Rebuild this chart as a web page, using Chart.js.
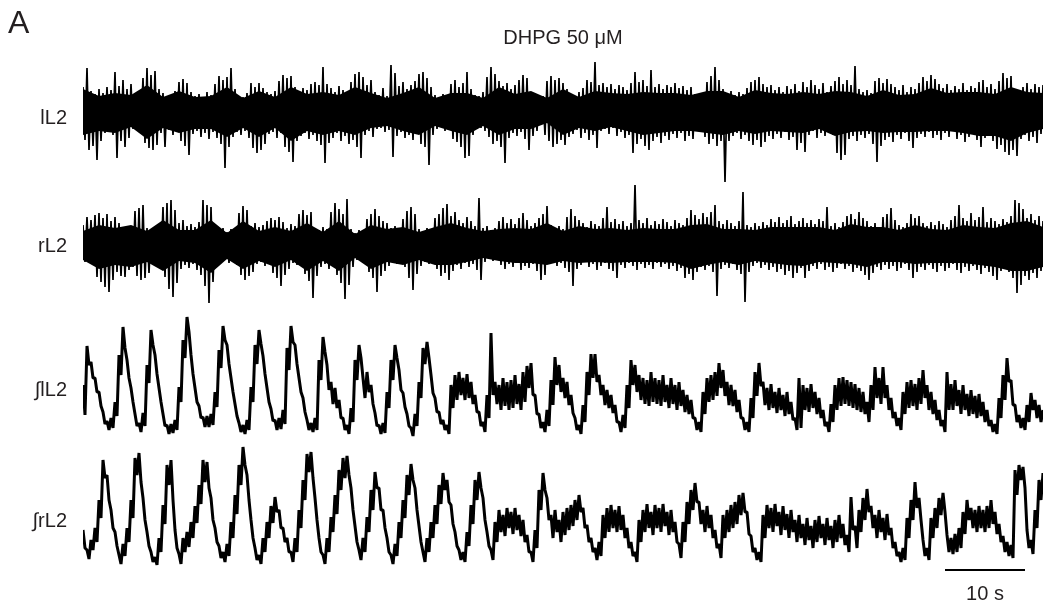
<!DOCTYPE html>
<html>
<head>
<meta charset="utf-8">
<script src="https://cdn.jsdelivr.net/npm/chart.js"></script>
<style>
  html, body { margin: 0; padding: 0; background: #ffffff; }
  canvas { display: block; }
</style>
</head>
<body>
<canvas id="traces" width="1044" height="610"></canvas>
<script>
// Ventral root recordings in DHPG 50 µM, 120 s, signal edges read every 0.5 s
const PANEL_LETTER = 'A';
const CONDITION = 'DHPG 50 \u03bcM';
const TRACE_NAMES = ['lL2', 'rL2', '\u222blL2', '\u222brL2'];
const SAMPLE_INTERVAL_S = 0.5;
const CORE_INTERVAL_S = 2;
const SCALE_BAR_S = 10;
const SCALE_BAR_END_S = 117.75;

// Raw left L2 neurogram: upper and lower excursions of the signal (a.u.)
const lL2_upper = [
  24,43,20,17,22,18,24,21,39,25, 31,22,27,17,15,33,43,36,40,22, 18,14,15,20,29,32,28,19,15,17,
  14,19,16,27,35,31,34,43,22,15, 14,18,28,24,28,23,19,17,20,30, 36,33,35,24,20,23,21,27,29,26,
  44,27,23,19,25,21,16,29,37,39, 34,26,31,19,16,23,15,46,38,25, 29,22,26,30,37,39,33,24,16,14,
  17,15,27,31,24,28,39,22,16,15, 19,34,44,37,30,25,28,22,26,31, 36,33,18,14,16,15,30,35,31,33,
  28,22,17,14,19,23,31,29,49,26, 28,24,27,22,26,24,21,28,39,29, 31,25,41,24,27,22,26,24,28,23,
  25,21,24,17,15,18,29,35,44,31, 22,18,20,16,19,17,23,29,31,34, 27,24,26,21,24,19,25,22,27,20,
  29,24,31,26,22,28,19,25,30,34, 27,31,26,45,22,19,21,18,30,33, 28,32,27,24,21,26,19,24,22,28,
  34,30,36,32,27,23,27,21,25,22, 28,21,25,23,29,31,24,27,22,30, 38,33,35,20,18,24,28,22,27,24,
  26];
const lL2_lower = [
  -29,-39,-35,-49,-30,-22,-20,-24,-47,-30, -36,-27,-18,-16,-17,-32,-37,-39,-34,-22, -36,-19,-24,-18,-30,-35,-44,-23,-20,-26,
  -22,-28,-21,-27,-33,-57,-36,-26,-21,-24, -20,-27,-37,-42,-39,-33,-23,-21,-27,-22, -36,-41,-51,-30,-25,-22,-28,-24,-30,-34,
  -52,-32,-27,-22,-30,-25,-33,-29,-36,-47, -24,-20,-26,-18,-17,-21,-19,-46,-25,-21, -27,-24,-29,-22,-33,-36,-54,-24,-18,-16,
  -20,-18,-28,-31,-36,-47,-45,-24,-18,-17, -20,-26,-33,-30,-36,-52,-27,-22,-25,-21, -28,-39,-25,-20,-11,-24,-30,-36,-33,-29,
  -34,-26,-23,-19,-27,-22,-29,-24,-37,-20, -18,-23,-17,-25,-21,-27,-24,-42,-33,-28, -35,-39,-30,-26,-32,-25,-29,-23,-27,-22,
  -30,-25,-28,-20,-18,-26,-33,-28,-35,-30, -71,-30,-25,-22,-28,-24,-30,-34,-29,-36, -31,-25,-28,-23,-27,-21,-29,-26,-39,-32,
  -41,-24,-20,-27,-22,-25,-13,-24,-42,-49, -44,-28,-25,-30,-24,-27,-23,-33,-51,-35, -29,-26,-31,-24,-28,-22,-30,-37,-27,-23,
  -26,-21,-27,-24,-29,-22,-26,-20,-28,-24, -31,-26,-23,-29,-36,-27,-22,-30,-38,-34, -41,-44,-39,-45,-28,-24,-30,-26,-32,-23,
  -21];
// Dense core of the left neurogram, read every 2 s
const lL2_core_top = [22,15,18,16,26,14,20,14,15,24, 13,20,14,24,17,19,16,24,18,13, 18,24,13,18,18,13,24,17,20,13,
  22,14,20,18,17,19,18,18,16,20, 20,14,21,18,17,19,17,20,19,15, 21,16,17,23,18,19,19,17,24,19, 18];
const lL2_core_bottom = [-24,-20,-22,-16,-28,-17,-22,-18,-18,-26, -17,-26,-17,-30,-20,-24,-20,-24,-17,-15,
  -20,-24,-15,-20,-24,-15,-24,-18,-18,-12, -24,-17,-20,-16,-20,-24,-22,-20,-20,-22,
  -24,-20,-23,-20,-21,-22,-18,-25,-21,-20, -22,-21,-21,-20,-20,-22,-25,-25,-30,-22, -18];

// Raw right L2 neurogram
const rL2_upper = [
  20,28,25,30,32,27,31,24,28,22, 16,18,15,34,37,40,17,15,18,16, 38,42,45,35,22,25,19,21,18,23,
  45,40,38,16,14,17,13,16,15,32, 39,35,19,22,18,20,24,27,25,28, 23,17,21,19,31,35,30,33,17,15,
  18,16,33,42,36,31,46,16,12,15, 13,26,31,36,29,24,22,17,19,16, 26,34,38,31,16,13,17,14,27,31,
  37,41,29,33,25,22,28,24,19,47, 17,19,15,17,24,28,22,26,21,27, 32,25,19,22,27,31,39,20,17,19,
  16,28,36,29,25,22,18,24,21,19, 27,38,23,26,21,24,19,22,61,25, 22,27,20,24,21,26,23,19,25,22,
  20,27,35,30,26,32,28,33,40,24, 21,25,22,19,24,53,20,18,22,19, 23,20,26,23,28,22,25,29,21,24,
  27,22,25,21,26,24,38,19,22,18, 23,29,31,26,33,27,24,19,22,18, 28,31,37,25,20,18,22,31,27,29,
  22,19,23,20,24,21,18,25,29,40, 27,24,32,25,28,38,23,27,24,21, 26,23,29,45,42,36,27,31,25,29,
  24];
const rL2_lower = [
  -17,-16,-18,-32,-37,-42,-47,-35,-27,-31, -32,-25,-22,-31,-35,-33,-28,-17,-16,-18, -32,-44,-52,-38,-24,-20,-23,-19,-25,-30,
  -41,-58,-37,-22,-17,-15,-18,-16,-20,-30, -35,-31,-27,-19,-17,-21,-19,-28,-33,-41, -30,-24,-18,-20,-17,-29,-36,-53,-31,-22,
  -19,-24,-21,-30,-38,-54,-40,-22,-15,-13, -17,-27,-33,-47,-31,-26,-21,-17,-19,-16, -22,-33,-45,-29,-21,-17,-19,-15,-24,-31,
  -28,-35,-26,-20,-24,-18,-22,-19,-25,-35, -17,-14,-16,-13,-20,-24,-19,-22,-18,-25, -21,-23,-19,-26,-35,-30,-19,-16,-21,-18,
  -23,-27,-41,-24,-20,-17,-22,-19,-25,-21, -18,-24,-26,-33,-20,-23,-18,-21,-25,-19, -23,-20,-24,-18,-22,-19,-24,-21,-26,-23,
  -33,-29,-35,-27,-22,-25,-21,-27,-51,-24, -20,-23,-19,-25,-29,-57,-27,-21,-18,-23, -20,-25,-22,-27,-24,-30,-26,-33,-28,-23,
  -33,-26,-21,-24,-19,-25,-22,-27,-23,-19, -24,-21,-27,-23,-26,-30,-35,-28,-22,-25, -20,-24,-21,-26,-23,-19,-25,-33,-27,-22,
  -25,-20,-24,-27,-21,-26,-23,-19,-25,-28, -22,-26,-21,-25,-29,-23,-27,-31,-35,-26, -22,-27,-33,-48,-40,-31,-35,-28,-33,-26,
  -30];
const rL2_core_top = [14,20,17,20,14,25,15,15,25,12, 24,14,18,14,22,13,24,11,20,16, 18,13,18,22,17,14,16,17,16,22,
  14,19,16,17,15,17,16,16,20,21, 16,16,15,18,18,18,18,15,21,18, 18,15,20,16,15,20,18,17,22,24, 18];
const rL2_core_bottom = [-15,-24,-20,-22,-17,-26,-16,-18,-28,-14, -24,-16,-22,-15,-26,-16,-26,-13,-24,-17,
  -20,-15,-20,-20,-17,-13,-16,-18,-18,-20, -16,-18,-17,-18,-17,-17,-17,-18,-24,-20,
  -17,-20,-16,-18,-20,-21,-17,-18,-19,-22, -17,-17,-19,-18,-18,-18,-20,-22,-26,-26, -22];

// Integrated left L2 activity: upper and lower edges of the noisy trace (a.u.)
const int_lL2_upper = [
  55,94,78,62,48,28,19,22,38,85, 113,80,52,26,17,27,75,110,85,52, 26,15,16,20,53,100,123,85,52,34,
  23,24,26,48,90,114,95,62,36,17, 15,20,53,95,110,84,52,31,20,22, 30,92,114,95,62,42,20,17,22,80,
  103,75,58,52,40,22,15,32,80,95, 62,68,55,27,15,17,48,80,95,70, 47,26,12,26,58,92,98,65,42,28,
  20,15,55,65,68,62,66,58,45,28, 18,45,107,58,55,62,58,60,65,56, 68,74,77,45,26,18,30,60,83,75,
  62,58,45,22,15,35,68,86,86,65, 55,50,45,35,18,25,55,80,75,65, 62,60,68,62,60,65,55,62,55,58,
  50,45,40,22,18,48,62,65,68,77, 70,58,55,50,40,22,18,42,68,77, 58,52,56,48,52,45,48,38,22,62,
  55,52,56,48,42,30,18,36,55,62, 63,60,58,56,52,48,38,55,73,62, 73,55,42,28,22,48,58,60,56,62,
  70,55,48,40,30,20,68,56,60,50, 55,46,50,44,46,38,30,20,16,42, 65,82,60,35,25,22,35,47,40,35,
  30];
const int_lL2_lower = [
  25,75,62,48,34,16,10,12,24,65, 92,62,38,14,8,14,57,95,66,38, 14,6,7,10,38,82,108,66,38,22,
  13,13,15,33,72,100,76,48,24,8, 6,10,38,76,96,66,38,19,10,11, 16,70,98,76,48,28,10,8,10,60,
  88,50,36,32,22,10,6,18,60,82, 42,48,36,14,6,7,32,60,82,50, 33,14,4,14,42,76,82,47,28,16,
  10,6,32,40,45,40,42,36,28,14, 8,22,45,36,30,34,30,32,36,30, 38,52,45,26,12,8,14,35,55,48,
  42,35,27,10,6,18,45,62,58,45, 35,32,27,18,8,12,32,55,48,40, 36,34,38,36,34,38,32,36,30,34,
  28,26,22,10,8,26,38,40,44,52, 44,35,34,28,22,10,8,22,44,54, 35,30,32,27,30,24,26,20,10,12,
  30,28,32,26,22,14,8,18,30,34, 36,34,32,30,28,26,18,30,42,36, 42,30,22,14,10,26,32,34,30,36,
  42,30,26,20,14,8,30,30,34,26, 30,24,26,22,24,18,14,8,6,22, 40,58,35,18,12,10,18,30,22,18,
  14];

// Integrated right L2 activity
const int_rL2_upper = [
  40,20,30,42,70,110,95,60,38,15, 26,42,70,112,117,72,38,18,13,32, 65,105,110,40,16,32,38,48,64,85,
  110,108,72,42,24,18,26,48,75,105, 123,95,50,22,15,32,48,64,73,60, 42,32,18,32,60,90,116,118,72,32,
  15,32,53,75,100,112,114,82,44,20, 32,53,80,98,82,60,32,15,26,48, 70,95,106,82,44,18,32,48,65,85,
  97,90,65,38,20,18,38,65,90,98, 72,38,20,48,60,55,62,58,62,55, 50,35,18,40,80,97,72,55,60,50,
  58,62,65,70,75,62,45,32,22,28, 55,62,65,60,64,55,42,28,18,50, 60,66,58,65,62,66,58,60,48,26,
  48,68,80,87,68,60,64,55,40,26, 55,60,65,68,75,77,58,34,22,18, 55,65,62,66,58,64,56,60,50,55,
  46,52,44,50,54,46,52,44,50,55, 46,35,73,44,60,72,81,64,55,60, 52,56,42,28,18,22,52,70,88,72,
  30,22,52,62,72,77,35,32,36,42, 58,70,62,60,64,60,64,70,58,46, 34,28,25,100,105,103,40,30,60,90,
  97];
const int_rL2_lower = [
  22,11,20,28,52,92,70,42,24,6, 14,28,52,95,88,50,24,8,5,18, 46,85,70,22,6,18,23,32,47,66,
  88,82,50,28,12,8,14,32,56,85, 105,70,32,10,6,18,32,47,58,42, 28,18,8,18,42,70,98,92,50,18,
  6,18,38,56,80,92,95,60,28,10, 18,38,60,82,60,42,18,6,14,32, 52,75,90,60,28,8,18,32,46,66,
  80,68,46,24,10,8,24,46,70,82, 50,24,10,28,38,34,42,36,40,34, 28,18,8,22,60,80,50,32,38,28,
  35,40,44,50,58,42,28,18,10,14, 32,38,42,38,40,32,22,14,8,28, 38,42,35,42,38,44,35,38,28,12,
  28,46,60,68,46,38,42,32,22,12, 32,38,42,46,55,58,36,18,10,8, 32,42,38,44,35,40,32,38,28,32,
  25,30,22,28,32,25,30,22,28,32, 25,18,40,22,38,50,58,42,32,38, 30,35,22,14,8,10,32,50,62,50,
  14,10,32,42,55,58,18,16,18,22, 36,50,42,38,42,38,42,46,36,28, 18,14,12,75,90,82,22,16,42,70,
  80];

const lastTime = (lL2_upper.length - 1) * SAMPLE_INTERVAL_S;

// The signal swings between its upper and lower excursion within each sample interval
function oscillation(upper, lower) {
  const pts = [];
  upper.forEach((u, i) => {
    const t = i * SAMPLE_INTERVAL_S;
    pts.push({ x: t, y: u });
    pts.push({ x: t + SAMPLE_INTERVAL_S / 2, y: lower[i] });
  });
  return pts;
}

const series = (values, interval) => values.map((v, i) => ({ x: i * interval, y: v }));

function trace(name, axisId, upper, lower, width) {
  return {
    label: name,
    yAxisID: axisId,
    data: oscillation(upper, lower),
    borderColor: '#000000',
    borderWidth: width,
    borderJoinStyle: 'bevel',
    pointRadius: 0,
    tension: 0,
    fill: false
  };
}

// Solid band for the dense part of a raw neurogram
function core(name, axisId, top, bottom) {
  const base = { yAxisID: axisId, borderWidth: 0, borderColor: '#000000', pointRadius: 0, tension: 0 };
  return [
    Object.assign({ label: name + ' core top', data: series(top, CORE_INTERVAL_S), fill: false }, base),
    Object.assign({ label: name + ' core bottom', data: series(bottom, CORE_INTERVAL_S),
      fill: '-1', backgroundColor: '#000000' }, base)
  ];
}

const TEXT_COLOR = '#231f20';
const FONT = '"Liberation Sans", Arial, Helvetica, sans-serif';

const figureText = {
  id: 'figureText',
  afterDraw(chart) {
    const { ctx, scales, chartArea } = chart;
    ctx.save();
    ctx.fillStyle = TEXT_COLOR;
    ctx.textBaseline = 'alphabetic';

    ctx.font = '32px ' + FONT;
    ctx.textAlign = 'left';
    ctx.fillText(PANEL_LETTER, 8, 33);

    ctx.font = '20px ' + FONT;
    ctx.textAlign = 'center';
    ctx.fillText(CONDITION, (chartArea.left + chartArea.right) / 2, 44);

    // trace names beside each panel
    const labelBaselines = [124, 252, 396, 527];
    ctx.textAlign = 'right';
    TRACE_NAMES.forEach((name, k) => ctx.fillText(name, 67, labelBaselines[k]));

    // time scale bar under the last trace
    const x1 = scales.x.getPixelForValue(SCALE_BAR_END_S);
    const x0 = scales.x.getPixelForValue(SCALE_BAR_END_S - SCALE_BAR_S);
    const yb = scales.yD.getPixelForValue(0);
    ctx.strokeStyle = '#000000';
    ctx.lineWidth = 2;
    ctx.beginPath();
    ctx.moveTo(x0, yb);
    ctx.lineTo(x1, yb);
    ctx.stroke();
    ctx.textAlign = 'center';
    ctx.fillText(SCALE_BAR_S + ' s', (x0 + x1) / 2, yb + 30);
    ctx.restore();
  }
};

// Four hidden value axes stacked top to bottom, one per trace
const hiddenAxis = (min, max, order) => ({
  type: 'linear',
  display: false,
  position: 'left',
  stack: 'traces',
  stackWeight: 1,
  weight: order,
  offset: false,
  min: min,
  max: max
});

new Chart(document.getElementById('traces'), {
  type: 'line',
  data: {
    datasets: [
      ...core(TRACE_NAMES[0], 'yA', lL2_core_top, lL2_core_bottom),
      trace(TRACE_NAMES[0], 'yA', lL2_upper, lL2_lower, 1.7),
      ...core(TRACE_NAMES[1], 'yB', rL2_core_top, rL2_core_bottom),
      trace(TRACE_NAMES[1], 'yB', rL2_upper, rL2_lower, 1.7),
      trace(TRACE_NAMES[2], 'yC', int_lL2_upper, int_lL2_lower, 3),
      trace(TRACE_NAMES[3], 'yD', int_rL2_upper, int_rL2_lower, 3)
    ]
  },
  options: {
    responsive: false,
    animation: false,
    layout: { padding: { left: 83, right: 1, top: 55, bottom: 35 } },
    plugins: {
      legend: { display: false },
      tooltip: { enabled: false },
      title: { display: false }
    },
    scales: {
      x: { type: 'linear', display: false, min: 0, max: lastTime },
      yA: hiddenAxis(-74, 56, 4),
      yB: hiddenAxis(-70, 60, 3),
      yC: hiddenAxis(-5, 125, 2),
      yD: hiddenAxis(-5, 125, 1)
    }
  },
  plugins: [figureText]
});
</script>
</body>
</html>
